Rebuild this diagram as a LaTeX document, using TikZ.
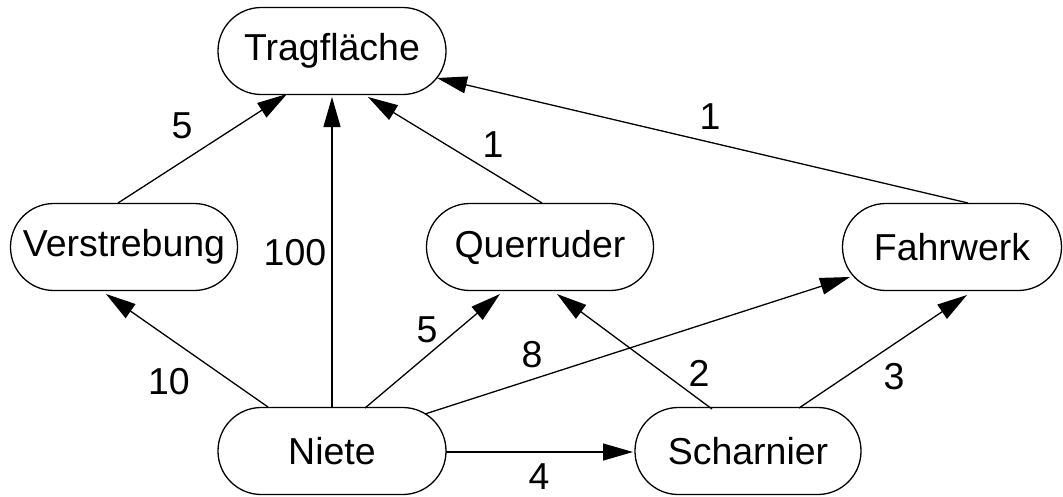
\documentclass[tikz,border=0pt]{standalone}
\usepackage{fontspec}
\setmainfont{Liberation Sans}
\usetikzlibrary{arrows.meta,calc}
\begin{document}
\begin{tikzpicture}[x=1pt,y=-1pt,
  box/.style={draw,line width=1.3pt,rounded corners=43.3pt,minimum height=87pt,inner sep=0pt,font=\fontsize{37.5}{42}\selectfont},
  lbl/.style={inner sep=0pt,font=\fontsize{37.5}{42}\selectfont},
  conn/.style={line width=1.3pt,-{Triangle[length=30pt,width=17pt]}}]
\useasboundingbox (0,0) rectangle (1063,496);
\node[box,minimum width=228pt] (T) at (332,51) {Tragfläche};
\node[box,minimum width=227pt] (V) at (124,247) {Verstrebung};
\node[box,minimum width=227pt] (Q) at (540,247) {Querruder};
\node[box,minimum width=219pt] (F) at (952,247) {Fahrwerk};
\node[box,minimum width=228pt] (N) at (332,451) {Niete};
\node[box,minimum width=226pt] (S) at (748,451) {Scharnier};
\draw[conn] ($(V.center)+(-6,-44)$) -- ($(T.center)+(-45,43)$);
\draw[conn] ($(N.center)+(0,-43)$) -- ($(T.center)+(0,46)$);
\draw[conn] ($(Q.center)+(2,-44)$) -- ($(T.center)+(36,46)$);
\draw[conn] ($(F.center)+(16,-44)$) -- ($(T.center)+(105,27)$);
\draw[conn] ($(N.center)+(-64,-44)$) -- ($(V.center)+(-18,47)$);
\draw[conn] ($(N.center)+(33,-43)$) -- ($(Q.center)+(-40,47)$);
\draw[conn] ($(N.center)+(93,-37)$) -- ($(F.center)+(-102,30)$);
\draw[conn] ($(N.center)+(114,1)$) -- ($(S.center)+(-115,1)$);
\draw[conn] ($(S.center)+(-36,-42)$) -- ($(Q.center)+(17,47)$);
\draw[conn] ($(S.center)+(51,-43)$) -- ($(F.center)+(15,48)$);
\node[lbl] (l1) at (182,126) {5};
\node[lbl] (l2) at (295,253) {100};
\node[lbl] (l3) at (169,382) {10};
\node[lbl] (l4) at (493,145) {1};
\node[lbl] (l5) at (710,117) {1};
\node[lbl] (l6) at (427,330) {5};
\node[lbl] (l7) at (532,355) {8};
\node[lbl] (l8) at (539,477) {4};
\node[lbl] (l9) at (699,373) {2};
\node[lbl] (l10) at (894,377) {3};
\end{tikzpicture}
\end{document}
